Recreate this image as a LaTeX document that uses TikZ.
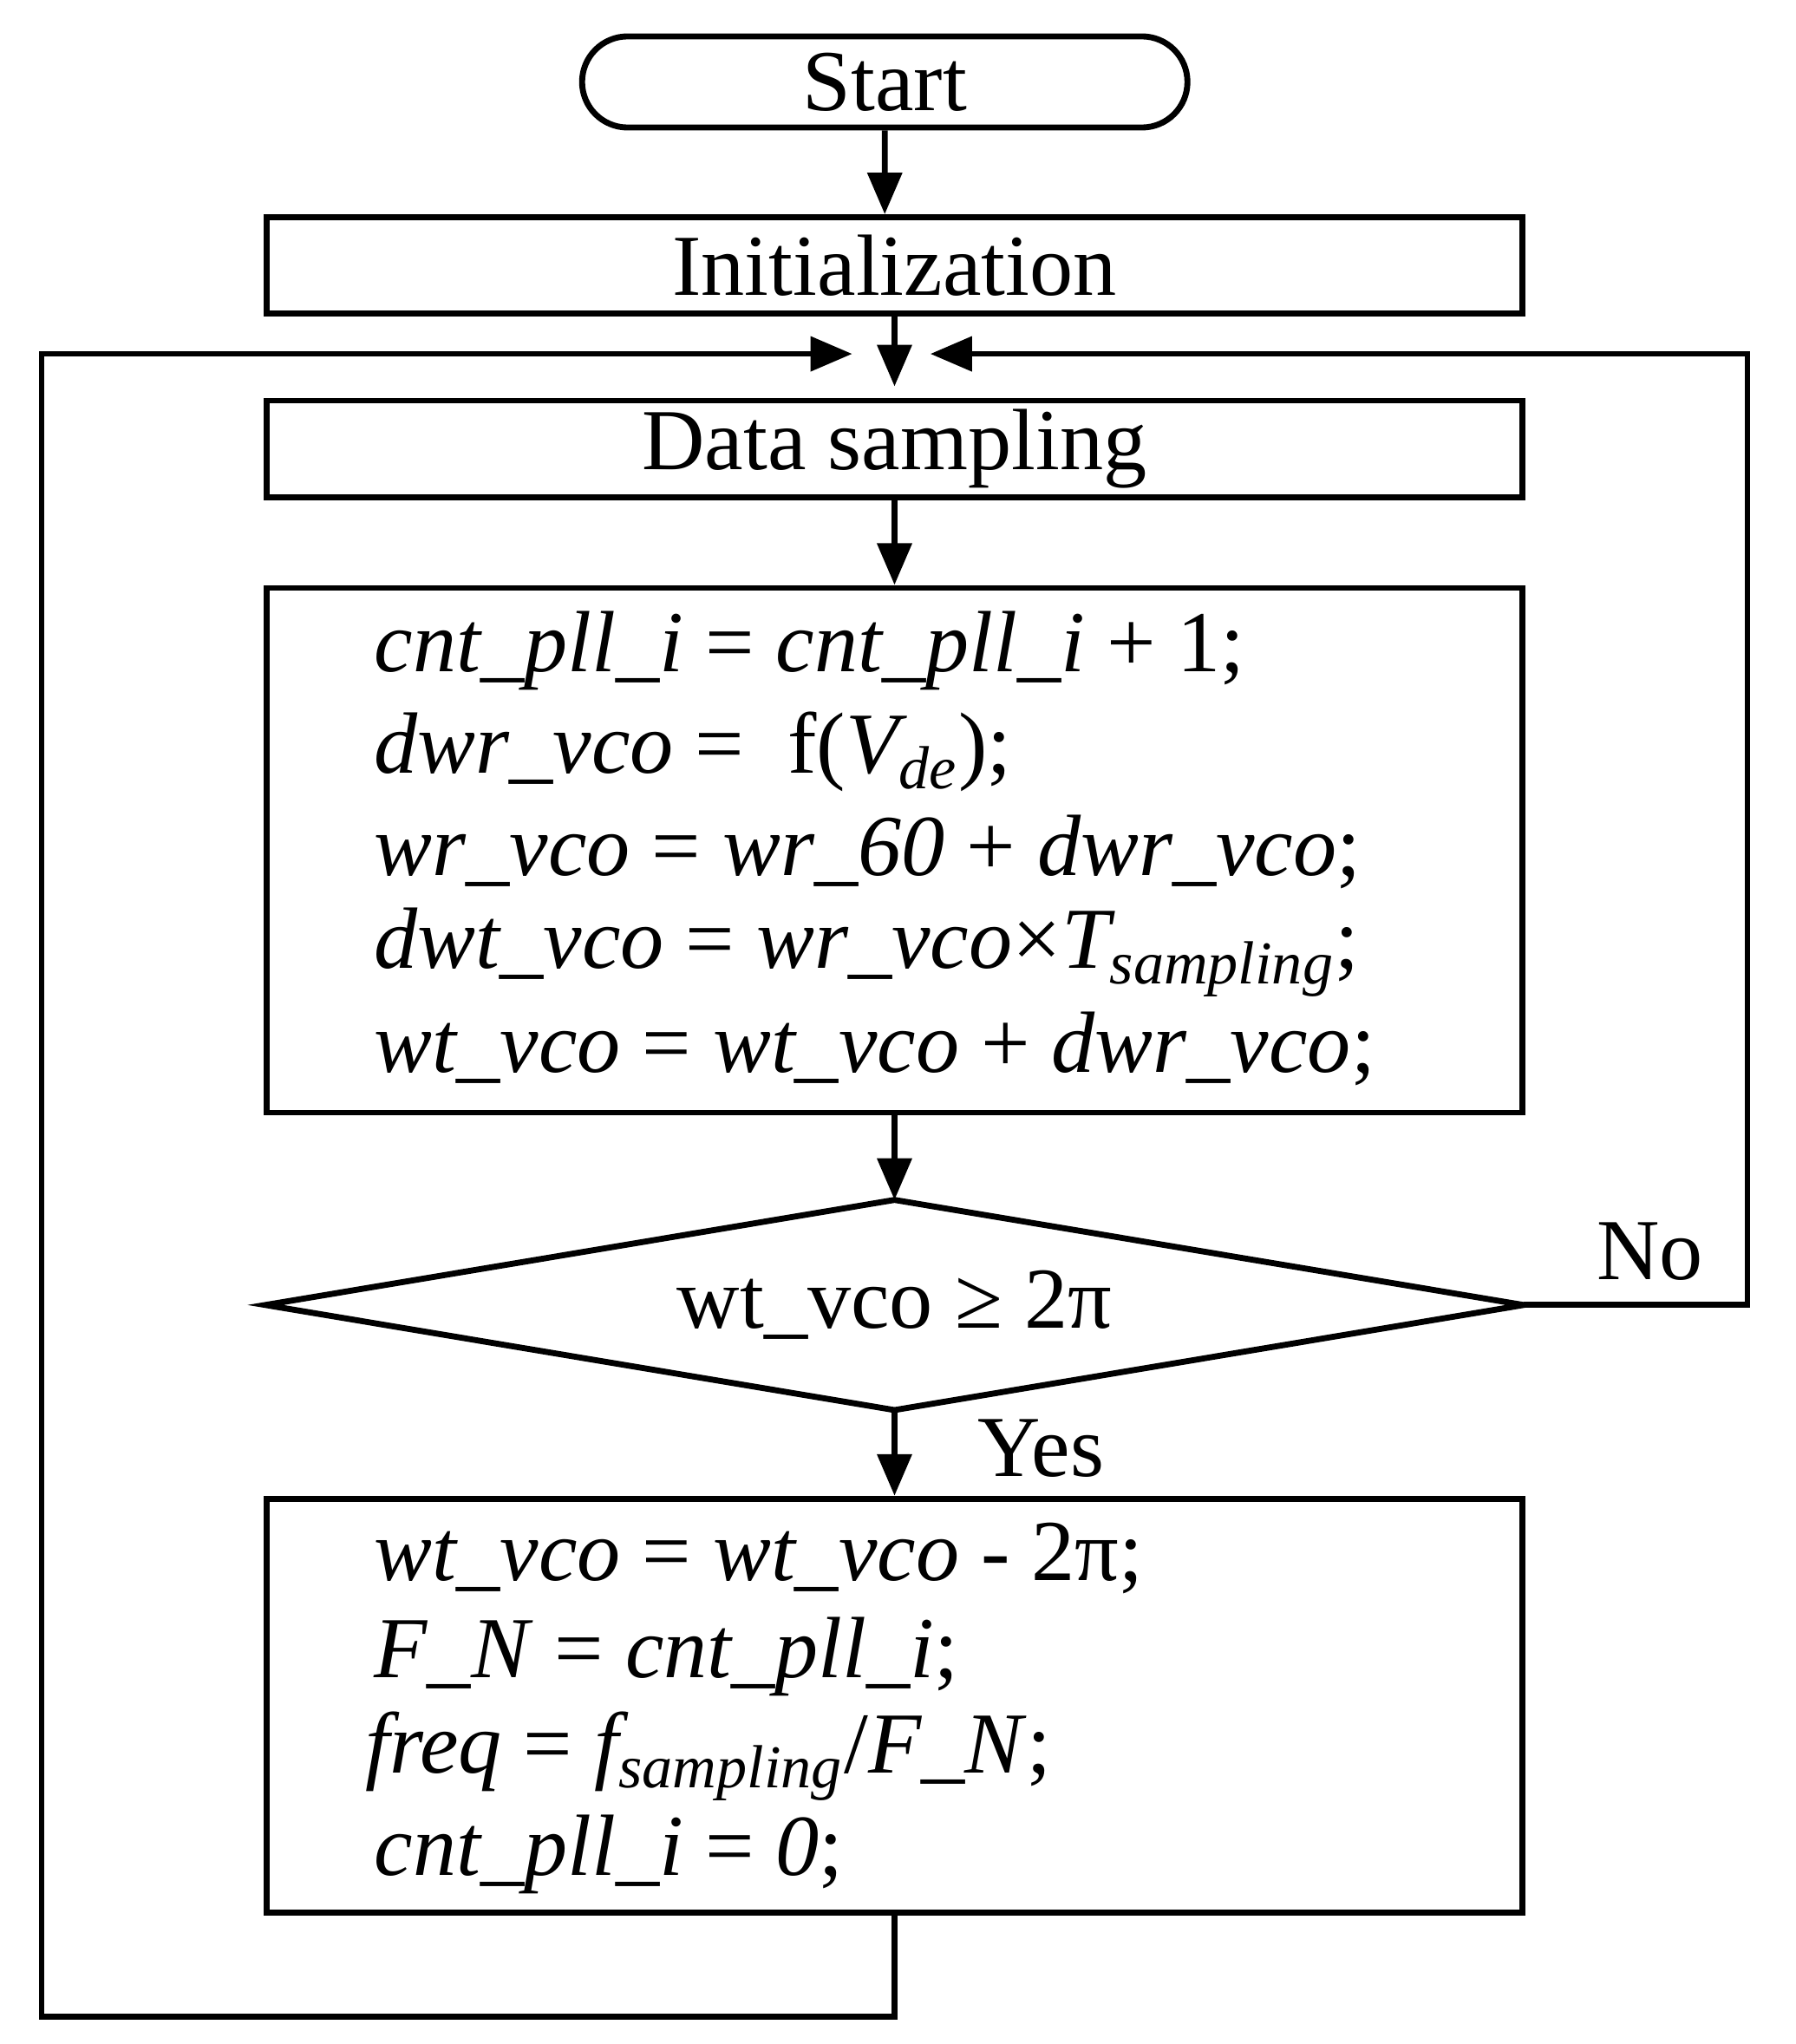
\documentclass[tikz,border=0pt]{standalone}
\usepackage{fontspec}
\setmainfont{Liberation Serif}
\usetikzlibrary{arrows.meta,shapes.misc}
\begin{document}
\begin{tikzpicture}[x=0.01cm,y=-0.01cm,
  every node/.style={font=\fontsize{19pt}{23pt}\selectfont},
  box/.style={draw,line width=1.3pt,minimum width=9.65cm,inner sep=0pt},
  arr/.style={line width=1.3pt,-{Triangle[length=0.32cm,width=0.26cm]}},
  ln/.style={line width=1.3pt},
  txt/.style={anchor=west,inner sep=0pt}]
\useasboundingbox (0,0) rectangle (1380,1571);
\node[draw,line width=1.3pt,rounded rectangle,minimum width=4.65cm,minimum height=0.7cm,inner sep=0pt] (start) at (680,63) {Start};
\node[box,minimum height=0.74cm] (init) at (687.5,204) {Initialization};
\node[box,minimum height=0.74cm] (data) at (687.5,345) {Data sampling};
\node[box,minimum height=4.03cm] (calc) at (687.5,653.5) {};
\node[txt] (c1) at (287,500) {\textit{cnt\_pll\_i} = \textit{cnt\_pll\_i} + 1;};
\node[txt] (c2) at (287,578) {\textit{dwr\_vco} = \ f(\textit{V\textsubscript{de}});};
\node[txt] (c3) at (287,655) {\textit{wr\_vco} = \textit{wr\_60} + \textit{dwr\_vco};};
\node[txt] (c4) at (287,732) {\textit{dwt\_vco} = \textit{wr\_vco}×\textit{T\textsubscript{sampling}};};
\node[txt] (c5) at (287,806) {\textit{wt\_vco} = \textit{wt\_vco} + \textit{dwr\_vco};};
\node[inner sep=0pt,minimum width=9.65cm,minimum height=1.6cm] (dec) at (687.5,1003) {wt\_vco ≥ 2π};
\draw[ln] (dec.north) -- (dec.east) -- (dec.south) -- (dec.west) -- cycle;
\node[box,minimum height=3.18cm] (upd) at (687.5,1311) {};
\node[txt] (u1) at (287,1198) {\textit{wt\_vco} = \textit{wt\_vco} - 2π;};
\node[txt] (u2) at (287,1273) {\textit{F\_N} = \textit{cnt\_pll\_i};};
\node[txt] (u3) at (280,1350) {\textit{freq} = \textit{f\textsubscript{sampling}}/\textit{F\_N};};
\node[txt] (u4) at (287,1425) {\textit{cnt\_pll\_i} = \textit{0};};
\node (no) at (1268,962) {No};
\node (yes) at (800,1113) {Yes};
\coordinate (lt) at (655,272);
\coordinate (rt) at (715,272);
\coordinate (mt) at (687.5,297);
\draw[arr] (start) -- (start|-init.north);
\draw[arr] (init) -- (mt);
\draw[arr] (data) -- (calc);
\draw[arr] (calc) -- (dec.north);
\draw[arr] (dec.south) -- (upd);
\draw[arr] (dec.east) -- (1343,1003) -- (1343,272) -- (rt);
\draw[arr] (upd.south) -- (687.5,1550) -- (32,1550) -- (32,272) -- (lt);
\end{tikzpicture}
\end{document}
